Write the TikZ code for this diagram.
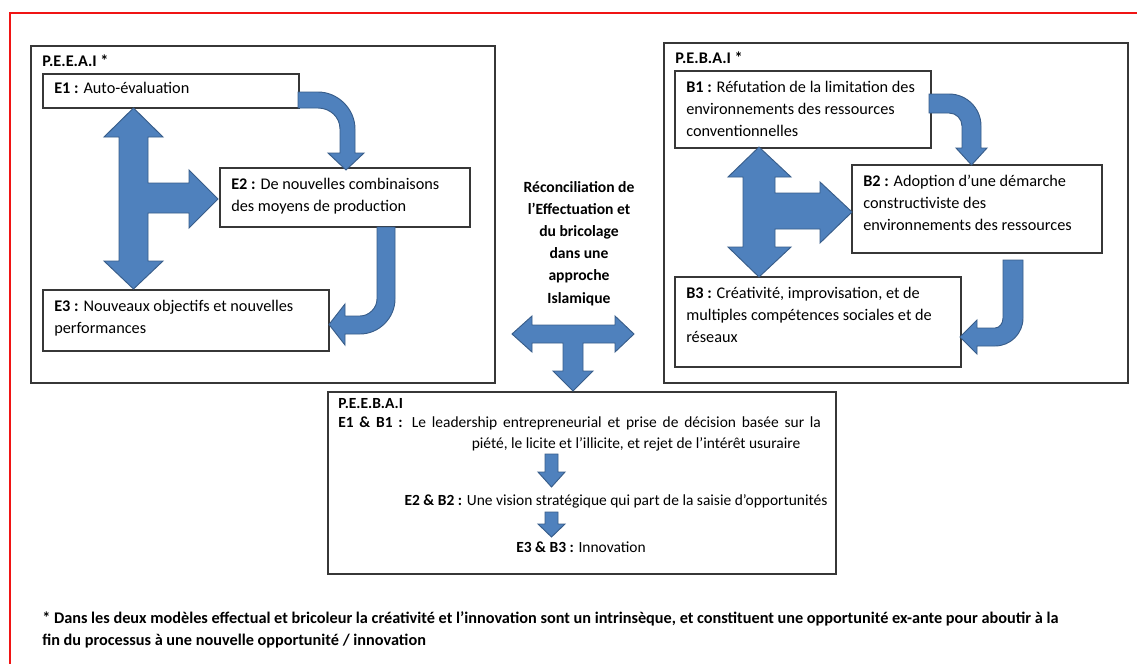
\documentclass[tikz,border=0pt]{standalone}
\usepackage{fontspec}
\setmainfont{Carlito}
\usetikzlibrary{fit}
\definecolor{arrowblue}{RGB}{79,129,189}
\definecolor{arrowedge}{RGB}{56,93,138}
\definecolor{boxgray}{RGB}{55,55,55}
\definecolor{framered}{RGB}{240,20,20}
\tikzset{
  panel/.style={draw=boxgray, fill=white, line width=1.2pt, inner sep=0pt},
  stage/.style={draw=boxgray, fill=white, line width=1.2pt, inner sep=0pt},
  txt/.style={anchor=base west, inner sep=0pt, align=left, font=\fontsize{12.2}{16.5}\selectfont},
  txtsmall/.style={txt, font=\fontsize{11.6}{16.5}\selectfont},
  blockarrow/.style={fill=arrowblue, draw=arrowedge, line width=0.7pt, line join=miter}
}

\begin{document}
\begin{tikzpicture}[x=0.75pt, y=-0.75pt]
\useasboundingbox (0,0) rectangle (1137,664);
\draw[framered, line width=1.3pt] (1137,13) -- (10,13) -- (10,664);

\node[panel, fit={(31,46) (495,383)}] (peeai) {};
\node[txt] (peeaiT) at (42,66) {\textbf{P.E.E.A.I *}};
\node[stage, fit={(43,74) (299,108)}] (e1) {};
\node[txt] (e1T) at (54,93) {\textbf{E1 :} Auto-évaluation};
\node[stage, fit={(220,168) (470,227)}] (e2) {};
\node[txt] (e2T) at (231,211) {\textbf{E2 :} De nouvelles combinaisons\\des moyens de production};
\node[stage, fit={(43,290) (329,351)}] (e3) {};
\node[txt] (e3T) at (54,333) {\textbf{E3 :} Nouveaux objectifs et nouvelles\\performances};

\node[panel, fit={(664,43) (1128,383)}] (pebai) {};
\node[txt] (pebaiT) at (675,63) {\textbf{P.E.B.A.I *}};
\node[stage, fit={(675,71) (931,148)}] (b1) {};
\node[txt] (b1T) at (686,136) {\textbf{B1 :} Réfutation de la limitation des\\environnements des ressources\\conventionnelles};
\node[stage, fit={(852,165) (1102,253)}] (b2) {};
\node[txt] (b2T) at (863,230) {\textbf{B2 :} Adoption d’une démarche\\constructiviste des\\environnements des ressources};
\node[stage, fit={(675,277) (961,367)}] (b3) {};
\node[txt] (b3T) at (686,342) {\textbf{B3 :} Créativité, improvisation, et de\\multiples compétences sociales et de\\réseaux};

\node[txt, anchor=base, align=center, font=\fontsize{11.7}{16.6}\selectfont] (reconc) at (579,303) {\textbf{Réconciliation de}\\\textbf{l’Effectuation et}\\\textbf{du bricolage}\\\textbf{dans une}\\\textbf{approche}\\\textbf{Islamique}};

\node[panel, fit={(328,392) (836,574)}] (peebai) {};
\node[txtsmall] (peebaiT) at (338,408) {\textbf{P.E.E.B.A.I}};
\node[txtsmall] (l1) at (338,427) {\hbox to 362pt{\textbf{E1 \& B1 :} Le leadership entrepreneurial et prise de décision basée sur la}};
\node[txtsmall, anchor=base] (l1b) at (636,448) {piété, le licite et l’illicite, et rejet de l’intérêt usuraire};
\node[txtsmall, anchor=base] (l2) at (616,505) {\textbf{E2 \& B2 :} Une vision stratégique qui part de la saisie d’opportunités};
\node[txtsmall, anchor=base] (l3) at (581,552) {\textbf{E3 \& B3 :} Innovation};

\node[txt] (note) at (42,645) {\textbf{* Dans les deux modèles effectual et bricoleur  la créativité et l’innovation sont un intrinsèque, et constituent  une opportunité  ex-ante pour aboutir à la}\\\textbf{fin du processus  à une nouvelle opportunité  / innovation}};

\draw[blockarrow] (133.5,108) -- (163,137) -- (148,137) -- (148,183) -- (189,183) -- (189,170) -- (218,199) -- (189,228) -- (189,213) -- (148,213) -- (148,261) -- (163,261) -- (133.5,289) -- (104,261) -- (119,261) -- (119,137) -- (104,137) -- cycle;
\draw[blockarrow] (298,92) -- (318,92) .. controls (338,92) and (355,109) .. (355,129) -- (355,153) -- (364,153) -- (346,170) -- (328,153) -- (340,153) -- (340,129) .. controls (340,117) and (330,108) .. (318,108) -- (298,108) -- cycle;
\draw[blockarrow] (377,227) -- (395,227) -- (395,299) .. controls (395,318) and (379,334) .. (360,334) -- (345,334) -- (345,345) -- (329,324.5) -- (345,304) -- (345,316) -- (360,316) .. controls (369,316) and (377,308) .. (377,299) -- cycle;

\draw[blockarrow] (759,147) -- (791,177) -- (775,177) -- (775,193) -- (820,193) -- (820,182) -- (852,212) -- (820,243) -- (820,229) -- (775,229) -- (775,247) -- (791,247) -- (759,277) -- (728,247) -- (743,247) -- (743,177) -- (728,177) -- cycle;
\draw[blockarrow] (929,94) -- (949,94) .. controls (966.7,94) and (981,108.3) .. (981,126) -- (981,148) -- (987,148) -- (971.5,165) -- (956,148) -- (962,148) -- (962,126) .. controls (962,118.8) and (956.2,113) .. (949,113) -- (929,113) -- cycle;
\draw[blockarrow] (1003,260) -- (1023,260) -- (1023,318) .. controls (1023,333.5) and (1010.5,346) .. (995,346) -- (977,346) -- (977,354) -- (960,337) -- (977,320) -- (977,328) -- (995,328) .. controls (999.4,328) and (1003,323.5) .. (1003,318) -- cycle;

\draw[blockarrow] (512,334) -- (532,316) -- (532,325) -- (615,325) -- (615,316) -- (634,334) -- (615,352) -- (615,343) -- (583,343) -- (583,371) -- (593,371) -- (573,391) -- (553,371) -- (563,371) -- (563,343) -- (532,343) -- (532,352) -- cycle;

\draw[blockarrow] (545,454) -- (558,454) -- (558,472) -- (565,472) -- (551.5,487) -- (538,472) -- (545,472) -- cycle;
\draw[blockarrow] (545,512) -- (558,512) -- (558,524) -- (565,524) -- (551.5,537) -- (538,524) -- (545,524) -- cycle;
\end{tikzpicture}
\end{document}
